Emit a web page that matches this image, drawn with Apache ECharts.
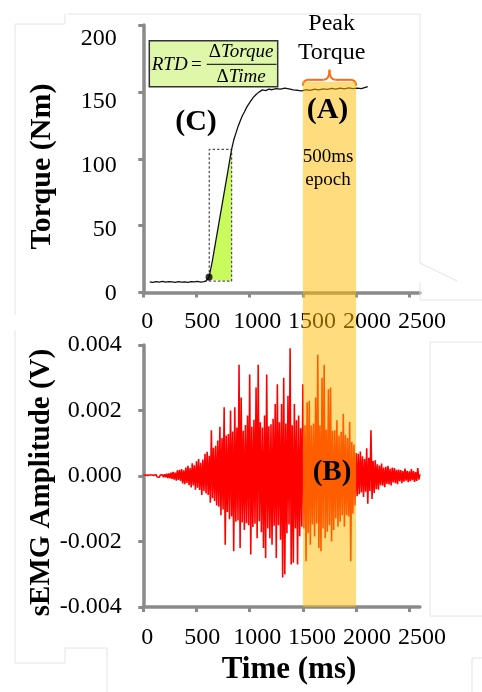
<!DOCTYPE html>
<html><head><meta charset="utf-8">
<script src="https://cdn.jsdelivr.net/npm/echarts@6/dist/echarts.min.js"></script>
<style>html,body{margin:0;padding:0;background:#fff}#c{width:482px;height:692px}</style>
</head><body><div id="c"></div>
<script>
// ---------- data ----------
const xTicks = [0, 500, 1000, 1500, 2000, 2500];
const torqueTicks = [0, 50, 100, 150, 200];
const emgTicks = [-0.004, -0.002, 0, 0.002, 0.004];

const torqueT = [60,90,120,150,180,210,240,270,300,330,360,390,420,450,480,510,540,570,590,605,620,650,700,750,800,830,850,870,890,910,930,950,975,1000,1030,1060,1090,1120,1150,1180,1210,1250,1290,1330,1370,1410,1450,1490,1530,1570,1610,1650,1690,1730,1770,1810,1850,1890,1930,1970,2010,2050,2080,2110];
const torqueNm = [8.0,7.6,8.2,7.8,8.3,7.7,8.1,7.9,7.5,8.2,7.8,8.0,7.6,8.1,7.9,8.3,7.8,8.2,8.6,9.6,11.8,24,47,70,93,107,114,119,124,128,132,135,139,142,145.5,148,150,151.5,151,152,151.6,152.5,152,152.8,152.2,151.5,151.2,150.8,151.6,151.2,152,151.5,152.3,151.8,152.6,152,152.8,152.3,153,152.4,152.8,152.4,153.2,154];

// RTD annotation
const rectT = [620, 620, 830, 830, 620];
const rectNm = [8.5, 107, 107, 8.5, 8.5];
const greenT = [625, 830, 830];
const greenNm = [9.5, 107, 8.5];
const onsetT = [618];
const onsetNm = [11.5];

// 500 ms epoch
const epoch = [1500, 2000];
const bandTopNm = 157.5;

// sEMG samples, every 10 ms from 0 ms, in units of 0.1 mV (1e-4 V)
const emgStepMs = 10;
const emgTenthMv = [
 0.3,-0.2,0.3,-0.3,0.2,-0.3,0.3,-0.2,0.3,-0.3,0.2,-0.3,0.4,-0.3,0.3,-0.4,0.3,-0.3,0.4,-0.4,
 0.5,-0.4,0.7,-0.6,0.8,-0.7,1.0,-0.9,1.3,-1.1,1.0,-1.4,1.7,-1.2,1.9,-1.5,2.1,-2.3,1.7,-2.5,
 2.6,-2.1,3.1,-2.8,2.4,-3.5,3.9,-2.9,3.3,-4.2,4.5,-3.6,5.2,-4.3,4.0,-5.8,5.0,-4.6,6.8,-5.3,
 7.4,-5.8,6.2,-8.2,14.0,-6.8,8.6,-7.6,9.2,-9.0,10.8,-9.4,15.0,-12.0,11.6,-10.2,21.0,-21.0,12.4,-11.0,
 12.8,-13.2,20.0,-12.4,13.6,-23.0,21.0,-14.0,14.8,-13.6,34.0,-22.0,24.0,-14.2,13.8,-16.5,15.6,-14.4,18.5,-15.0,
 31.0,-24.0,15.0,-15.6,17.2,-14.6,27.0,-19.0,34.0,-13.8,16.4,-17.2,14.8,-22.0,18.5,-25.0,31.0,-16.0,15.2,-19.0,
 15.8,-21.0,17.5,-15.2,22.0,-25.0,28.0,-15.0,16.4,-19.5,22.0,-31.0,30.0,-30.0,16.0,-17.5,24.5,-14.8,39.0,-27.0,
 15.5,-26.5,22.0,-16.0,17.0,-27.0,18.5,-18.4,14.6,-15.5,28.0,-16.0,15.5,-26.0,22.5,-17.5,23.0,-21.0,15.4,-14.8,
 16.0,-18.5,24.0,-14.5,37.0,-22.0,15.5,-23.0,30.0,-16.0,34.0,-19.0,14.2,-17.0,26.5,-15.0,27.0,-20.0,13.8,-16.5,
 14.0,-13.0,17.0,-15.5,12.4,-14.0,13.5,-12.0,19.0,-15.5,12.6,-12.0,11.6,-12.4,16.5,-26.0,10.4,-11.5,9.6,-9.0,
 7.0,-6.2,6.8,-5.6,7.5,-5.0,6.0,-6.4,5.2,-4.8,8.5,-8.5,5.6,-4.6,14.0,-7.0,4.6,-5.2,4.8,-4.0,
 3.6,-4.2,3.2,-2.8,3.8,-3.0,2.6,-3.4,2.8,-2.4,3.1,-2.6,2.2,-2.9,2.6,-2.0,2.4,-2.2,1.9,-2.5,
 2.0,-1.6,1.8,-2.2,1.5,-1.7,2.3,-1.4,1.6,-1.9,1.4,-1.6,2.1,-1.3,1.5,-1.8,1.2,-1.5,2.4,-1.1,
 0.6
];

// ---------- chart ----------
const FONT = '"Liberation Serif", "Times New Roman", serif';
const AX = '#8a8a8a';
const chart = echarts.init(document.getElementById('c'), null, {renderer: 'canvas'});

const mainX = (gi) => ({
  gridIndex: gi, type: 'value', min: 0, max: 2600,
  axisLine: {show: true, onZero: false, lineStyle: {color: AX, width: 3.5}},
  axisTick: {show: true, customValues: xTicks, length: 5, lineStyle: {color: AX, width: 3}},
  axisLabel: {show: false}, splitLine: {show: false}
});
const mainY = (gi, mn, mx, iv) => ({
  gridIndex: gi, type: 'value', min: mn, max: mx, interval: iv,
  axisLine: {show: true, onZero: false, lineStyle: {color: AX, width: 3.5}},
  axisTick: {show: true, length: 5, lineStyle: {color: AX, width: 3}},
  axisLabel: {show: false}, splitLine: {show: false}
});
const labelX = (gi, margin) => ({
  gridIndex: gi, type: 'value', min: 0, max: 2500, interval: 500,
  axisLine: {show: false}, axisTick: {show: false}, splitLine: {show: false},
  axisLabel: {margin: margin, fontSize: 24, fontFamily: FONT, color: '#000', formatter: v => String(v)}
});
const labelY = (gi, mn, mx, iv, margin, fmt) => ({
  gridIndex: gi, type: 'value', min: mn, max: mx, interval: iv,
  axisLine: {show: false}, axisTick: {show: false}, splitLine: {show: false},
  axisLabel: {margin: margin, fontSize: 24, fontFamily: FONT, color: '#000', formatter: fmt}
});

const option = {
  animation: false,
  backgroundColor: '#fff',
  grid: [
    {left: 143.3, top: 25, width: 276.6, height: 267.5},
    {left: 143.3, top: 345, width: 276.6, height: 262},
    {left: 147.3, top: 38.3, width: 274.7, height: 255},
    {left: 147.3, top: 345, width: 274.7, height: 262}
  ],
  xAxis: [mainX(0), mainX(1), labelX(2, 16), labelX(3, 19)],
  yAxis: [
    mainY(0, 0, 200, 50),
    mainY(1, -0.004, 0.004, 0.002),
    labelY(2, 0, 200, 50, 30.6, v => String(v)),
    labelY(3, -0.004, 0.004, 0.002, 25.6, v => v.toFixed(3))
  ],
  series: [
    {
      type: 'custom', xAxisIndex: 0, yAxisIndex: 0, z: 2,
      data: [[greenT[0], greenNm[0]]],
      renderItem: (params, api) => ({
        type: 'polygon',
        shape: {points: greenT.map((t, i) => api.coord([t, greenNm[i]]))},
        style: {fill: '#c9fb5c'}
      })
    },
    {
      type: 'line', xAxisIndex: 0, yAxisIndex: 0, z: 3,
      data: rectT.map((t, i) => [t, rectNm[i]]),
      showSymbol: false, symbol: 'none',
      lineStyle: {color: '#555', width: 1.3, type: [2.5, 2]}
    },
    {
      type: 'line', xAxisIndex: 0, yAxisIndex: 0, z: 4,
      data: torqueT.map((t, i) => [t, torqueNm[i]]),
      showSymbol: false, symbol: 'none',
      lineStyle: {color: '#111', width: 1.3}
    },
    {
      type: 'scatter', xAxisIndex: 0, yAxisIndex: 0, z: 5,
      data: onsetT.map((t, i) => [t, onsetNm[i]]),
      symbolSize: 7, itemStyle: {color: '#000'}
    },
    {
      type: 'line', xAxisIndex: 1, yAxisIndex: 1, z: 3,
      data: emgTenthMv.map((v, i) => [i * emgStepMs, v * 1e-4]),
      showSymbol: false, symbol: 'none', sampling: 'none',
      lineStyle: {color: '#ff0000', width: 1.6, opacity: 1, join: 'bevel'}
    }
  ]
};
chart.setOption(option);

// ---------- overlays ----------
const p0 = chart.convertToPixel({gridIndex: 0}, [epoch[0], bandTopNm]);
const p1 = chart.convertToPixel({gridIndex: 1}, [epoch[1], emgTicks[0]]);
const bx0 = p0[0], bx1 = p1[0], by0 = p0[1], by1 = p1[1];
const bxc = (bx0 + bx1) / 2;
const yb = by0 + 4, ym = by0 - 2, yt = by0 - 12;
const BR = '#ff6a10';

const txt = (text, x, y, font, extra) => Object.assign({
  type: 'text', x: x, y: y, z: 100,
  style: {text: text, font: font, fill: '#000', align: 'center', verticalAlign: 'middle'}
}, extra || {});
const faint = (pts) => ({type: 'polyline', z: 1, shape: {points: pts}, style: {stroke: '#e4e4e4', lineWidth: 1, fill: null}});

const graphic = [
  faint([[68, 14], [420, 14], [420, 263], [457, 281]]),
  faint([[15, 315], [15, 24], [65, 24], [65, 14]]),
  faint([[420, 282], [420, 300], [482, 300]]),
  faint([[482, 342], [430, 342], [430, 616], [482, 616]]),
  faint([[15, 330], [15, 663], [65, 663], [65, 648], [107, 648], [107, 692]]),
  faint([[472, 692], [472, 658], [482, 658]]),
  {type: 'rect', z: 50, shape: {x: bx0, y: by0, width: bx1 - bx0, height: by1 - by0},
   style: {fill: 'rgba(255,188,0,0.5)'}},
  {type: 'group', z: 60, children: [
    {type: 'bezierCurve', shape: {x1: bx0, y1: yb, x2: bx0 + 6, y2: ym, cpx1: bx0, cpy1: ym}, style: {stroke: BR, lineWidth: 2, fill: null}},
    {type: 'line', shape: {x1: bx0 + 6, y1: ym, x2: bxc - 6, y2: ym}, style: {stroke: BR, lineWidth: 2}},
    {type: 'bezierCurve', shape: {x1: bxc - 6, y1: ym, x2: bxc, y2: yt, cpx1: bxc, cpy1: ym}, style: {stroke: BR, lineWidth: 2, fill: null}},
    {type: 'bezierCurve', shape: {x1: bxc, y1: yt, x2: bxc + 6, y2: ym, cpx1: bxc, cpy1: ym}, style: {stroke: BR, lineWidth: 2, fill: null}},
    {type: 'line', shape: {x1: bxc + 6, y1: ym, x2: bx1 - 6, y2: ym}, style: {stroke: BR, lineWidth: 2}},
    {type: 'bezierCurve', shape: {x1: bx1 - 6, y1: ym, x2: bx1, y2: yb, cpx1: bx1, cpy1: ym}, style: {stroke: BR, lineWidth: 2, fill: null}}
  ]},
  {type: 'rect', z: 60, shape: {x: 149.3, y: 40.7, width: 128.4, height: 46},
   style: {fill: '#dff7a9', stroke: '#333', lineWidth: 1.5}},
  {type: 'text', z: 61, x: 176.7, y: 65,
   style: {text: '{i|RTD} {n|=}', align: 'center', verticalAlign: 'middle', fill: '#000',
     rich: {i: {fontStyle: 'italic', fontSize: 19, fontFamily: FONT}, n: {fontSize: 19, fontFamily: FONT}}}},
  {type: 'text', z: 61, x: 241, y: 52,
   style: {text: '{n|Δ}{i|Torque}', align: 'center', verticalAlign: 'middle', fill: '#000',
     rich: {i: {fontStyle: 'italic', fontSize: 19, fontFamily: FONT}, n: {fontSize: 19, fontFamily: FONT}}}},
  {type: 'line', z: 61, shape: {x1: 206.7, y1: 64.3, x2: 276.5, y2: 64.3}, style: {stroke: '#000', lineWidth: 1}},
  {type: 'text', z: 61, x: 241, y: 77,
   style: {text: '{n|Δ}{i|Time}', align: 'center', verticalAlign: 'middle', fill: '#000',
     rich: {i: {fontStyle: 'italic', fontSize: 19, fontFamily: FONT}, n: {fontSize: 19, fontFamily: FONT}}}},
  txt('Peak', 331.7, 23.5, '24px ' + FONT),
  txt('Torque', 331.7, 53, '24px ' + FONT),
  txt('(A)', 327.5, 110, 'bold 30px ' + FONT),
  txt('500ms', 328, 157, '19px ' + FONT),
  txt('epoch', 328, 180, '19px ' + FONT),
  txt('(C)', 196, 122, 'bold 30px ' + FONT),
  txt('(B)', 332, 473, 'bold 29px ' + FONT),
  txt('Torque (Nm)', 42, 166.5, 'bold 30px ' + FONT, {rotation: Math.PI / 2}),
  txt('sEMG Amplitude (V)', 42, 482.5, 'bold 29px ' + FONT, {rotation: Math.PI / 2}),
  txt('Time (ms)', 289, 670, 'bold 31px ' + FONT)
];
chart.setOption({graphic: graphic});
</script></body></html>
